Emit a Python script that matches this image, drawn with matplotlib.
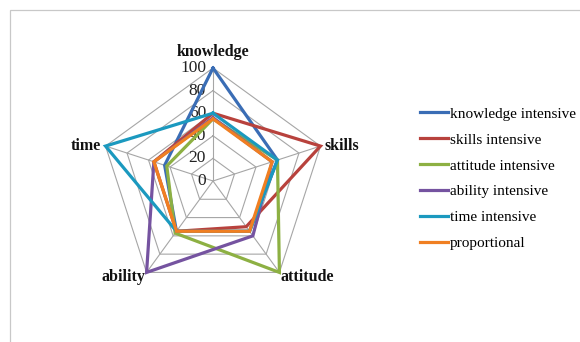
import numpy as np
import matplotlib
matplotlib.use("Agg")
import matplotlib.pyplot as plt
from matplotlib.patches import Rectangle

plt.rcParams['font.family'] = ['Liberation Serif', 'DejaVu Serif']

# categories and series
categories = ['knowledge', 'skills', 'attitude', 'ability', 'time']
series_names = ['knowledge intensive', 'skills intensive', 'attitude intensive',
                'ability intensive', 'time intensive', 'proportional']
knowledge_int = [100, 60, 55, 55, 45]
skills_int = [60, 100, 50, 55, 55]
attitude_int = [55, 60, 100, 57, 43]
ability_int = [56, 55, 60, 100, 55]
time_int = [60, 60, 55, 55, 100]
proportional = [55, 55, 55, 55, 55]
tick_values = [0, 20, 40, 60, 80, 100]

colors = ['#3a6db5', '#b8423d', '#8db043', '#7553a0', '#1b99bf', '#f07f22']
all_series = [knowledge_int, skills_int, attitude_int, ability_int, time_int, proportional]

fig = plt.figure(figsize=(5.8, 3.42), dpi=100)

# light frame of the chart area (only top/left visible in the reference)
fig.add_artist(Rectangle((10/580, -0.2), 1.2, 1.2 - 10/342, transform=fig.transFigure,
                         fill=False, edgecolor='#c8c8c8', linewidth=0.9))

ax = fig.add_axes([(213-113)/580, (161-113)/342, 226/580, 226/342], projection='polar')
ax.set_theta_zero_location('N')
ax.set_theta_direction(-1)
ax.set_ylim(0, 100)
ax.grid(False)
ax.set_xticks([])
ax.set_yticks([])
ax.spines['polar'].set_visible(False)
ax.patch.set_visible(False)

angles = np.linspace(0, 2*np.pi, len(categories), endpoint=False)
closed = np.append(angles, angles[0])

# polygon gridlines + spokes
for t in tick_values[1:]:
    ax.plot(closed, [t]*len(closed), color='#a6a6a6', lw=0.8, clip_on=False, zorder=1)
for a in angles:
    ax.plot([a, a], [0, 100], color='#a6a6a6', lw=0.8, clip_on=False, zorder=1)

# data lines
for name, vals, c in zip(series_names, all_series, colors):
    ax.plot(closed, vals + vals[:1], color=c, lw=2.3, label=name,
            clip_on=False, zorder=3, solid_joinstyle='miter')

# tick labels along knowledge axis
for t in tick_values:
    ax.annotate(str(t), xy=(0, t), xytext=(-5, 0), textcoords='offset points',
                ha='right', va='center', fontsize=12.5, color='#222222', zorder=2)

# category labels
label_pos = [((0, 6), 'center', 'bottom'),
             ((3, 0), 'left', 'center'),
             ((1, -3), 'left', 'center'),
             ((-1, -3), 'right', 'center'),
             ((-3, 0), 'right', 'center')]
for a, name, (off, ha, va) in zip(angles, categories, label_pos):
    ax.annotate(name, xy=(a, 100), xytext=off, textcoords='offset points',
                ha=ha, va=va, fontsize=11.5, fontweight='bold', color='#111111')

fig.legend(loc='upper left', bbox_to_anchor=(420/580, 1 - 107/342), frameon=False,
           fontsize=11, handlelength=1.8, handletextpad=0.15, labelspacing=0.8,
           borderpad=0, borderaxespad=0)

fig.savefig('out.png', dpi=100)
